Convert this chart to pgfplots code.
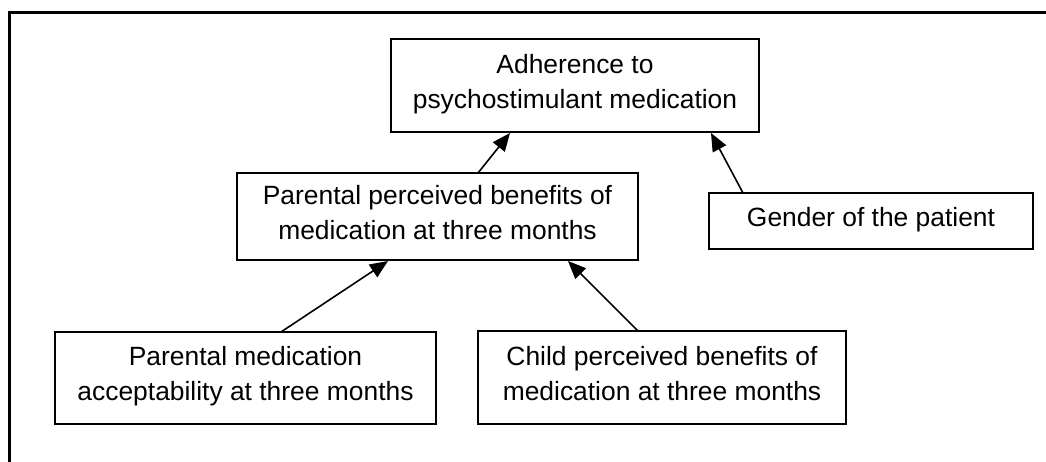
\documentclass[border=0pt]{standalone}
\usepackage{fontspec}
\setmainfont{Liberation Sans}
\usepackage{pgfplots}
\pgfplotsset{compat=1.18}
\usetikzlibrary{arrows.meta}
\tikzset{txt/.style={anchor=base, inner sep=0pt, font=\fontsize{13.2}{17.5}\selectfont}}
\begin{document}
\begin{tikzpicture}
\begin{axis}[
  width=523pt, height=230.5pt, scale only axis,
  xmin=0, xmax=1046, ymin=0, ymax=461, y dir=reverse,
  hide axis, clip=false,
  every axis plot/.append style={black, no markers},
]
% outer frame (only top and left edges visible)
\addplot[line width=1.5pt] coordinates {(9,480) (9,12) (1070,12)};
% boxes
\addplot[line width=1pt] coordinates {(391,39) (759,39) (759,132) (391,132) (391,39)} -- cycle;
\addplot[line width=1pt] coordinates {(237,173) (638,173) (638,260) (237,260) (237,173)} -- cycle;
\addplot[line width=1pt] coordinates {(709,193) (1033,193) (1033,249) (709,249) (709,193)} -- cycle;
\addplot[line width=1pt] coordinates {(55,332) (436,332) (436,424) (55,424) (55,332)} -- cycle;
\addplot[line width=1pt] coordinates {(478,331) (846,331) (846,424) (478,424) (478,331)} -- cycle;
% arrows
\addplot[line width=0.8pt, -{Triangle[length=9pt,width=7.5pt]}] coordinates {(281,332) (388,261)};
\addplot[line width=0.8pt, -{Triangle[length=9pt,width=7.5pt]}] coordinates {(638,331) (568,261)};
\addplot[line width=0.8pt, -{Triangle[length=9pt,width=7.5pt]}] coordinates {(478,173) (510,133)};
\addplot[line width=0.8pt, -{Triangle[length=9pt,width=7.5pt]}] coordinates {(743,193) (711,133)};
% texts
\node[txt] at (axis cs:575,73) {Adherence to};
\node[txt] at (axis cs:575,108) {psychostimulant medication};
\node[txt] at (axis cs:437.5,204) {Parental perceived benefits of};
\node[txt] at (axis cs:437.5,239) {medication at three months};
\node[txt] at (axis cs:871,226) {Gender of the patient};
\node[txt] at (axis cs:245.5,365.5) {Parental medication};
\node[txt] at (axis cs:245.5,400.5) {acceptability at three months};
\node[txt] at (axis cs:662,365.5) {Child perceived benefits of};
\node[txt] at (axis cs:662,400.5) {medication at three months};
\coordinate (bbA) at (axis cs:0,461);
\coordinate (bbB) at (axis cs:1046,0);
\end{axis}
\pgfresetboundingbox
\useasboundingbox (bbA) rectangle (bbB);
\end{tikzpicture}
\end{document}
